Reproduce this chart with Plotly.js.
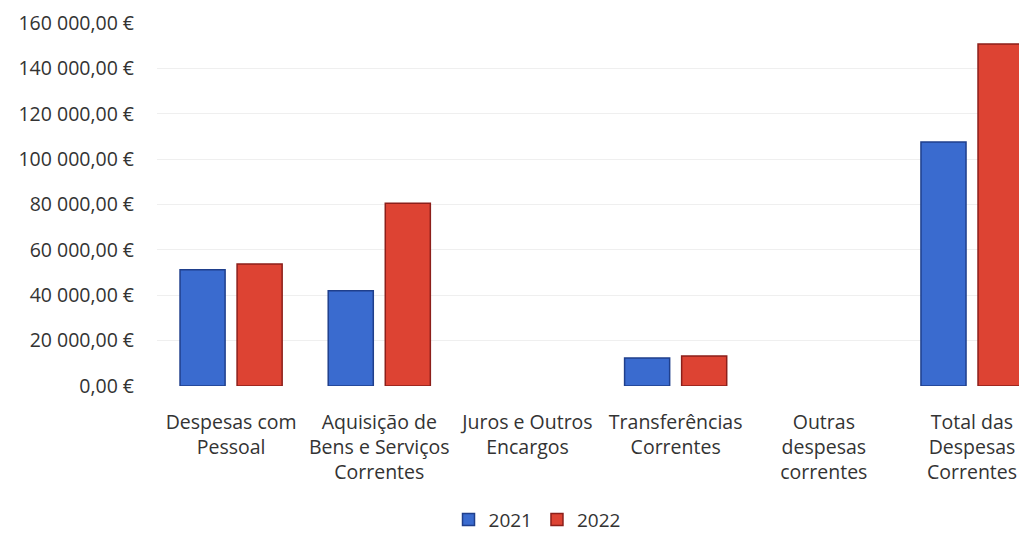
<!DOCTYPE html>
<html>
<head>
<meta charset="utf-8">
<script src="https://cdn.plot.ly/plotly-3.0.1.min.js"></script>
<style>
  html, body { margin: 0; padding: 0; background: #fff; overflow: hidden; }
  #chart { width: 1019px; height: 533px; }
</style>
</head>
<body>
<div id="chart"></div>
<script>
// categorias do eixo x (quebras de linha como no original)
const categorias = [
    "Despesas com<br>Pessoal",
    "Aquisição de<br>Bens e Serviços<br>Correntes",
    "Juros e Outros<br>Encargos",
    "Transferências<br>Correntes",
    "Outras<br>despesas<br>correntes",
    "Total das<br>Despesas<br>Correntes"
];

// valores (euros)
const valores2021 = [51200, 42000, 0, 12300, 0, 107500];
const valores2022 = [53800, 80500, 0, 13200, 0, 150700];

const series = ["2021", "2022"];
const yTicks = [0, 20000, 40000, 60000, 80000, 100000, 120000, 140000, 160000];

const fonte = "'Open Sans', 'Noto Sans', sans-serif";

// formato português: 160 000,00 €
function euros(v) {
    const partes = v.toFixed(2).split(".");
    const inteiro = partes[0].replace(/\B(?=(\d{3})+(?!\d))/g, " ");
    return inteiro + "," + partes[1] + " €";
}

// barras com valor zero não desenham contorno
function contorno(vals) {
    return vals.map(v => v === 0 ? 0 : 1.5);
}

const trace2021 = {
    x: categorias,
    y: valores2021,
    name: series[0],
    type: "bar",
    marker: { color: "#3a6bcf", line: { color: "#1f3f8c", width: contorno(valores2021) } },
    hoverinfo: "skip"
};

const trace2022 = {
    x: categorias,
    y: valores2022,
    name: series[1],
    type: "bar",
    marker: { color: "#dd4333", line: { color: "#8c1f1a", width: contorno(valores2022) } },
    hoverinfo: "skip"
};

const layout = {
    width: 1019,
    height: 533,
    margin: { l: 157, r: 0, t: 23, b: 147 },
    paper_bgcolor: "#fff",
    plot_bgcolor: "#fff",
    font: { family: fonte, size: 19, color: "#333" },
    barmode: "group",
    bargap: 0.23,
    bargroupgap: 0.21,
    showlegend: true,
    legend: {
        orientation: "h",
        xref: "container",
        yref: "container",
        x: 0.527,
        xanchor: "center",
        y: 0.025,
        yanchor: "middle",
        itemwidth: 30,
        font: { family: fonte, size: 19, color: "#333" },
        traceorder: "normal"
    },
    xaxis: {
        range: [-0.5, 5.317],
        showline: false,
        ticks: "",
        tickangle: 0,
        ticklabelstandoff: 22,
        tickfont: { family: fonte, size: 19.5, color: "#333" },
        fixedrange: true
    },
    yaxis: {
        range: [0, 160000],
        tickvals: yTicks,
        ticktext: yTicks.map(euros),
        showgrid: true,
        gridcolor: "#efefef",
        zeroline: false,
        showline: false,
        ticks: "",
        ticklabelstandoff: 22,
        tickfont: { family: fonte, size: 19.5, color: "#333" },
        fixedrange: true
    }
};

Plotly.newPlot("chart", [trace2021, trace2022], layout, { displayModeBar: false, staticPlot: true });
</script>
</body>
</html>
